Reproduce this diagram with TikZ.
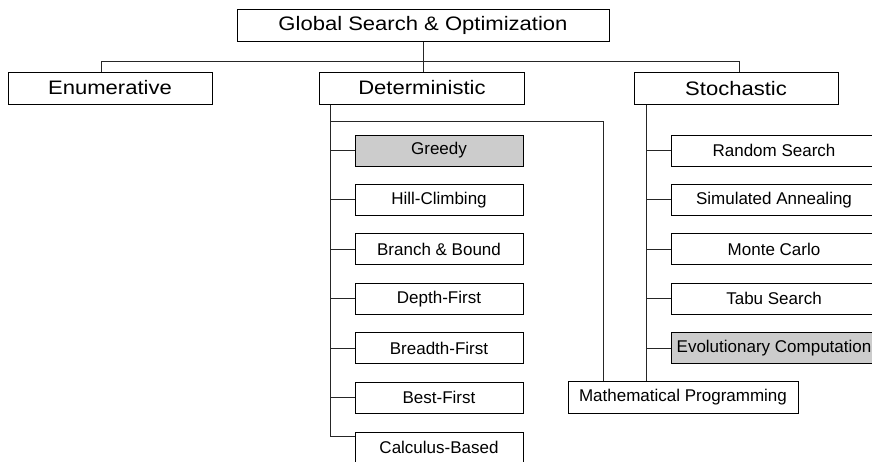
\documentclass[tikz,border=0pt]{standalone}
\usepackage{fontspec}
\setmainfont{Liberation Sans}
\newfontfamily\widefont[FakeStretch=1.13]{Liberation Sans}
\tikzset{
  box/.style={draw=black, line width=1pt, inner sep=0pt, fill=white},
  topbox/.style={box, font=\widefont\fontsize{19.5}{22}\selectfont, minimum height=32},
  leafbox/.style={box, font=\fontsize{17}{20}\selectfont, minimum height=31},
  detleaf/.style={leafbox, minimum width=168},
  stoleaf/.style={leafbox, minimum width=206},
  shaded/.style={fill=gray!40},
  conn/.style={draw=black!85, line width=1pt}
}
\begin{document}
\begin{tikzpicture}[x=1pt,y=-1pt]
\useasboundingbox (0,0) rectangle (872,461);
\clip (0,0) rectangle (872,461);
% top levels
\node[topbox, minimum width=372] (top) at (423,25) {Global Search \& Optimization};
\node[topbox, minimum width=204] (enum) at (110,88) {Enumerative};
\node[topbox, minimum width=205] (det) at (422,88) {Deterministic};
\node[topbox, minimum width=204] (sto) at (736,88.5) {Stochastic};
% deterministic children
\node[detleaf, shaded] (greedy) at (439,150.5) {Greedy};
\node[detleaf] (hill) at (439,199.9) {Hill-Climbing};
\node[detleaf] (bb) at (439,249.3) {Branch \& Bound};
\node[detleaf] (dfs) at (439,298.7) {Depth-First};
\node[detleaf] (bfs) at (439,348.1) {Breadth-First};
\node[detleaf] (best) at (439,397.5) {Best-First};
\node[detleaf] (calc) at (439,447.5) {Calculus-Based};
% stochastic children
\node[stoleaf] (rand) at (774,150.5) {Random Search};
\node[stoleaf] (sa) at (774,199.9) {Simulated Annealing};
\node[stoleaf] (mc) at (774,249.3) {Monte Carlo};
\node[stoleaf] (tabu) at (774,298.7) {Tabu Search};
\node[stoleaf, shaded] (evo) at (774,348.1) {Evolutionary Computation};
% mathematical programming
\node[leafbox, minimum width=230, minimum height=32] (mp) at (683,397) {Mathematical Programming};
% helper coordinates
\coordinate (busL) at (101,61);
\coordinate (busR) at (739,61);
\coordinate (dtr) at (330,0);
\coordinate (dh) at (330,121);
\coordinate (dr) at (603,121);
\coordinate (str) at (646,0);
% connectors
\draw[conn] (top.south) -- (top.south |- det.north);
\draw[conn] (busL |- enum.north) -- (busL) -- (busR) -- (busR |- sto.north);
\draw[conn] (dtr |- det.south) |- ([yshift=-5pt]calc.north west);
\foreach \n in {greedy,hill,bb,dfs,bfs,best} \draw[conn] (dtr |- \n.west) -- (\n.west);
\draw[conn] (dh) -- (dr) -- (dr |- mp.north);
\draw[conn] (str |- sto.south) -- (str |- mp.north);
\foreach \n in {rand,sa,mc,tabu,evo} \draw[conn] (str |- \n.west) -- (\n.west);
\end{tikzpicture}
\end{document}
